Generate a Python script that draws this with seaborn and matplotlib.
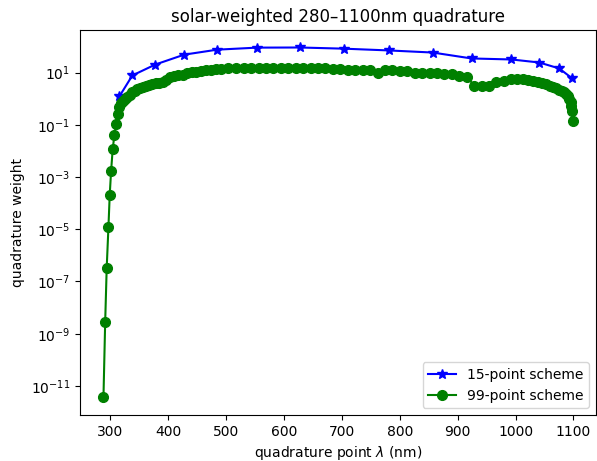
import numpy as np
import pandas as pd
import matplotlib
matplotlib.use("Agg")
import matplotlib.pyplot as plt
import seaborn as sns

# 15-point scheme
wl15 = [315.5, 337.9, 377.6, 427.6, 484.5, 553.4, 627.6, 703.4, 781.0, 856.9,
        924.0, 993.0, 1041.0, 1075.5, 1098.0]
w15 = [1.23, 7.8, 20.5, 49, 76, 91, 92, 83, 71, 59, 35, 32, 24.5, 14.5, 6.0]

# 99-point scheme
wl99 = [288, 291, 293.6, 296.6, 298.8, 301.2, 304, 306.9, 309.8, 312.6, 315.5,
        318.5, 321.8, 325.4, 329.2, 333.2, 337.4, 341.8, 346.4, 351.2, 356.2,
        361.4, 366.8, 372.4, 378.2, 384.2, 390.4, 396.8, 403.4, 410.2,
        417.4, 424.8, 432.4, 440.2, 448.2, 456.4, 464.8, 473.4, 482.2, 491.2,
        504, 517, 530, 543, 556, 568, 581, 594, 607, 620, 633, 646, 659, 671,
        684, 697, 710, 723, 736, 749, 762, 774, 787, 800, 813, 826, 839, 852,
        864, 877, 890, 903, 916, 929, 942, 955, 967, 980,
        993, 1003, 1012.5, 1021.5, 1030, 1038, 1045.5, 1052.5, 1059, 1065,
        1070.5, 1075.5, 1080, 1084, 1087.5, 1090.5, 1093, 1095, 1096.6,
        1097.8, 1098.5]
w99 = [3.6e-12, 2.9e-9, 3.3e-7, 1.2e-5, 2.0e-4, 1.7e-3, 1.2e-2, 4.0e-2, 0.105,
       0.25, 0.48, 0.66, 0.83, 1.0, 1.2, 1.45, 1.74, 2.04, 2.34, 2.63, 2.88,
       3.16, 3.39, 3.63, 3.89, 4.17, 4.57, 5.25, 6.9, 7.6,
       8.1, 8.5, 9.3, 10.2, 11.0, 11.7, 12.3, 12.9, 13.5, 14.1,
       14.5, 14.8, 14.8, 15.1, 15.1, 15.3, 15.3, 15.3, 15.3, 15.1, 15.1, 15.0,
       14.8, 14.5, 14.1, 13.8, 13.2, 12.9, 13.2, 12.6, 10.0, 12.3, 12.6, 12.0,
       11.5, 10.0, 9.8, 9.5, 9.3, 9.1, 8.9, 7.6, 6.8, 3.16, 3.0, 3.1, 4.2, 5.0,
       5.5, 5.6, 5.5, 5.1, 4.7, 4.3, 3.9, 3.55, 3.16, 2.8,
       2.5, 2.24, 2.0, 1.74, 1.48, 1.23, 1.0, 0.76, 0.54,
       0.35, 0.135]

df15 = pd.DataFrame({"wl": wl15, "w": w15})
df99 = pd.DataFrame({"wl": wl99, "w": w99})

fig = plt.figure(figsize=(5.97, 4.61), dpi=100)
ax = fig.add_axes([80 / 597, (461 - 415) / 461, (596 - 80) / 597, (415 - 30) / 461])

sns.lineplot(data=df15, x="wl", y="w", ax=ax, color="b", marker="*",
             markersize=7, markeredgecolor="b", markeredgewidth=1,
             linewidth=1.5, label="15-point scheme")
sns.lineplot(data=df99, x="wl", y="w", ax=ax, color="g", marker="o",
             markersize=7, markeredgecolor="g", markeredgewidth=1,
             linewidth=1.5, label="99-point scheme")

ax.set_yscale("log")
ax.set_title("solar-weighted 280\u20131100nm quadrature")
ax.set_xlabel(r"quadrature point $\lambda$ (nm)")
ax.set_ylabel("quadrature weight")
ax.set_xticks([300, 400, 500, 600, 700, 800, 900, 1000, 1100])
ax.set_yticks([1e1, 1e-1, 1e-3, 1e-5, 1e-7, 1e-9, 1e-11])
ax.yaxis.set_minor_locator(matplotlib.ticker.NullLocator())
ax.legend(loc="lower right")

fig.savefig("out.png", dpi=100)
